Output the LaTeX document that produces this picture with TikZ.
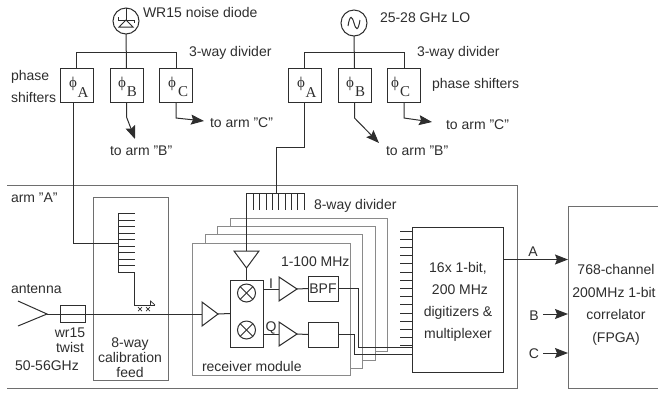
\documentclass[tikz,border=0pt]{standalone}
\usepackage{fontspec}
\setmainfont{Liberation Sans}
\newfontfamily\serifph{Liberation Serif}
\usetikzlibrary{arrows.meta}
\definecolor{ink}{HTML}{2E2E2E}
\definecolor{soft}{HTML}{8A8A8A}
\tikzset{
  wire/.style={draw=ink,line width=1bp},
  boxline/.style={draw=ink,line width=1bp,fill=white,inner sep=0pt,outer sep=0pt},
  phibox/.style={boxline,minimum width=33bp,minimum height=34bp},
  backbox/.style={draw=soft,line width=1bp,fill=white},
  arrowline/.style={wire,-{Stealth[length=13bp,width=10bp,inset=2bp]}},
  lab/.style={inner sep=0pt,outer sep=0pt,text=ink,font=\fontsize{14bp}{16bp}\selectfont,anchor=west,text height=10bp,text depth=0pt},
  clab/.style={lab,anchor=center,align=center},
  phi/.style={inner sep=0pt,text=ink,font=\fontsize{15bp}{15bp}\selectfont\serifph},
  sub/.style={inner sep=0pt,text=ink,font=\fontsize{15bp}{15bp}\selectfont\serifph},
  mixer/.style={circle,draw=ink,line width=1bp,minimum size=18bp,inner sep=0pt,outer sep=0pt},
}
\begin{document}
\begin{tikzpicture}[x=1bp,y=-1bp]
\useasboundingbox (0,0) rectangle (658,392);
% --- top left chain
\node[circle,draw=ink,line width=1bp,minimum size=26bp,inner sep=0pt,outer sep=0pt] (diode) at (126,21) {};
\node[phibox] (pa1) at (76.5,85) {};
\node[phibox] (pb1) at (126.5,85) {};
\node[phibox] (pc1) at (176,85) {};
\draw[wire] (119,27) -- (126,20) -- (133,27) -- cycle;
\draw[wire] (118,20) -- (134,20);
\draw[wire] (118,20) -- (118,17);
\draw[wire] (134,20) -- (134,23);
\draw[wire] (diode.south) -- (pb1.north);
\draw[wire] (126,8) -- (126,20);
\coordinate (d1l) at (76.5,52);
\coordinate (d1r) at (176,52);
\draw[wire] (pa1.north) -- (d1l) -- (d1r) -- (pc1.north);
\coordinate (b1) at (126.5,117);
\coordinate (b1e) at (135,139);
\draw[arrowline] (pb1.south) -- (b1) -- (b1e);
\coordinate (c1) at (176,118);
\coordinate (c1e) at (204,121);
\draw[arrowline] (pc1.south) -- (c1) -- (c1e);
% --- top right chain
\node[circle,draw=ink,line width=1bp,minimum size=26bp,inner sep=0pt,outer sep=0pt] (lo) at (354,23) {};
\node[phibox] (pa2) at (304.5,85) {};
\node[phibox] (pb2) at (354.5,85) {};
\node[phibox] (pc2) at (404,85) {};
\draw[wire] (348,26) .. controls (350,14) and (352,16) .. (354,23) .. controls (356,30) and (358,32) .. (360,20);
\draw[wire] (lo.south) -- (pb2.north);
\coordinate (d2l) at (304.5,52);
\coordinate (d2r) at (404,52);
\draw[wire] (pa2.north) -- (d2l) -- (d2r) -- (pc2.north);
\coordinate (b2) at (354.5,118);
\coordinate (b2e) at (379,143);
\draw[arrowline] (pb2.south) -- (b2) -- (b2e);
\coordinate (c2) at (404,118);
\coordinate (c2e) at (432,122);
\draw[arrowline] (pc2.south) -- (c2) -- (c2e);
% phi labels
\node[phi] (fa1) at (73,84) {ϕ}; \node[sub] (sa1) at (83,93) {A};
\node[phi] (fb1) at (122,84) {ϕ}; \node[sub] (sb1) at (132,92) {B};
\node[phi] (fc1) at (172,84) {ϕ}; \node[sub] (sc1) at (183,92) {C};
\node[phi] (fa2) at (301,84) {ϕ}; \node[sub] (sa2) at (311,93) {A};
\node[phi] (fb2) at (350,84) {ϕ}; \node[sub] (sb2) at (360,92) {B};
\node[phi] (fc2) at (395,84) {ϕ}; \node[sub] (sc2) at (405,92) {C};
% --- arm A frame (open at left)
\coordinate (f1) at (7,185); \coordinate (f2) at (517,185);
\coordinate (f3) at (517,388); \coordinate (f4) at (7,388);
\draw[draw=soft!70!ink,line width=1bp] (f1) -- (f2) -- (f3) -- (f4);
% --- calibration feed
\node[draw=soft!70!ink,line width=1bp,inner sep=0pt,outer sep=0pt,minimum width=75bp,minimum height=183bp] (cal) at (130.5,288.5) {};
% --- stacked modules
\draw[backbox] (230,218) rectangle (387,351);
\draw[backbox] (217,226) rectangle (375,360);
\draw[backbox] (205,234) rectangle (362.5,368);
\node[backbox,inner sep=0pt,outer sep=0pt,minimum width=158bp,minimum height=132bp] (rx) at (271,309) {};
% --- calibration comb
\coordinate (ca) at (73,243);
\coordinate (cb) at (118,243);
\draw[wire] (73,102) -- (ca) -- (cb);
\coordinate (ct) at (118,213.5);
\coordinate (cu) at (118,272);
\draw[wire] (ct) -- (cu);
\foreach \i in {0,...,9} \draw[wire] (118,213.5+6.5*\i) -- (135,213.5+6.5*\i);
\coordinate (cc) at (134.5,272);
\coordinate (cd) at (134.5,305);
\coordinate (ce) at (155,305);
\draw[wire] (cc) -- (cd) -- (ce);
\draw[wire,line width=0.7bp] (150.5,305) -- (150.5,301) -- (155,305);
\foreach \x in {140,148}{
  \draw[wire,line width=0.7bp] (\x-2,307) -- (\x+2,311);
  \draw[wire,line width=0.7bp] (\x-2,311) -- (\x+2,307);
}
% --- antenna and main line
\coordinate (ha) at (18,301); \coordinate (hb) at (47,314); \coordinate (hc) at (18,326);
\draw[wire] (ha) -- (hb) -- (hc);
\node[boxline,fill=none,minimum width=25bp,minimum height=17bp] (twist) at (72.5,313.5) {};
\coordinate (a1in) at (202,314);
\draw[wire] (hb) -- (a1in);
\draw[wire,fill=white] (202,302) -- (218,314) -- (202,326) -- cycle;
\coordinate (a1out) at (218,314);
\node[boxline,minimum width=33bp,minimum height=67bp] (mix) at (246.5,313.5) {};
\draw[wire] (a1out) -- (mix.west);
\node[mixer] (m1) at (246.5,293) {};
\node[mixer] (m2) at (246.5,330) {};
\foreach \m in {m1,m2}{
  \draw[wire] (\m.north west) -- (\m.south east);
  \draw[wire] (\m.north east) -- (\m.south west);
}
% --- 8-way divider
\coordinate (la) at (276,147);
\draw[wire] (pa2.south) -- (304.5,147) -- (la) -- (276,193);
\draw[wire] (247,193) -- (304.5,193);
\foreach \i in {1,...,9} \draw[wire] (247+6.35*\i,193) -- (247+6.35*\i,210);
\coordinate (lt) at (246.5,251);
\draw[wire] (246.5,193) -- (lt);
\draw[wire,fill=white] (234,251) -- (259,251) -- (246.5,268) -- cycle;
\draw[wire] (246.5,268) -- (mix.north);
% --- I and Q paths
\node[boxline,minimum width=30bp,minimum height=25bp] (bpf) at (323,288.5) {};
\node[boxline,minimum width=30bp,minimum height=25bp] (lpf) at (323,334.5) {};
\draw[wire] (263,289) -- (279,289);
\draw[wire,fill=white] (279,277) -- (297,289) -- (279,301) -- cycle;
\draw[wire] (297,289) -- (bpf.west);
\draw[wire] (263,334) -- (279,334);
\draw[wire,fill=white] (279,322) -- (297,334) -- (279,346) -- cycle;
\draw[wire] (297,334) -- (lpf.west);
% --- digitizer
\node[boxline,minimum width=91bp,minimum height=145bp] (dig) at (457.5,299.5) {};
\foreach \i in {0,...,15} \draw[wire] (400,231+8.2*\i) -- (412,231+8.2*\i);
\coordinate (i1) at (358,288.5); \coordinate (i2) at (358,347);
\coordinate (q1) at (354,334.5); \coordinate (q2) at (354,354);
\draw[wire] (bpf.east) -- (i1) -- (i2) -- (412,347);
\draw[wire] (lpf.east) -- (q1) -- (q2) -- (412,354);
% --- correlator (runs off the right edge)
\coordinate (k1) at (658,206); \coordinate (k2) at (568,206);
\coordinate (k3) at (568,388); \coordinate (k4) at (658,388);
\draw[draw=soft!70!ink,line width=1bp] (k1) -- (k2) -- (k3) -- (k4);
\coordinate (ka) at (568,259.5);
\draw[arrowline] (dig.east |- ka) -- (ka);
\coordinate (kb0) at (543,314); \coordinate (kb) at (568,314);
\draw[arrowline] (kb0) -- (kb);
\coordinate (kc0) at (543,353); \coordinate (kc) at (568,353);
\draw[arrowline] (kc0) -- (kc);
% --- labels
\node[lab] (t1) at (143,12) {WR15 noise diode};
\node[lab] (t2) at (189,51) {3-way divider};
\node[lab] (t3) at (11,75) {phase};
\node[lab] (t4) at (11,97) {shifters};
\node[lab] (t5) at (210,122) {to arm "C"};
\node[lab] (t6) at (110,150) {to arm "B"};
\node[lab] (t7) at (380,17) {25-28 GHz LO};
\node[lab] (t8) at (417,51) {3-way divider};
\node[lab] (t9) at (432,83) {phase shifters};
\node[lab] (t10) at (446,124) {to arm "C"};
\node[lab] (t11) at (386,150) {to arm "B"};
\node[lab] (t12) at (11,197) {arm "A"};
\node[lab] (t13) at (11,288) {antenna};
\node[clab] (t14) at (70,332) {wr15};
\node[clab] (t15) at (70,347) {twist};
\node[lab] (t16) at (15,365) {50-56GHz};
\node[clab] (t17) at (130,342) {8-way};
\node[clab] (t18) at (130,357) {calibration};
\node[clab] (t19) at (130,372) {feed};
\node[lab] (t20) at (314,204) {8-way divider};
\node[lab] (t21) at (281,261) {1-100 MHz};
\node[lab] (t22) at (202,366) {receiver module};
\node[clab] (t23) at (bpf) {BPF};
\node[clab] (t24) at (271,283) {I};
\node[clab] (t25) at (271,326) {Q};
\node[clab] (t26) at (458,267) {16x 1-bit,};
\node[clab] (t27) at (460,289) {200 MHz};
\node[clab] (t28) at (458,311) {digitizers \&};
\node[clab] (t29) at (458,333) {multiplexer};
\node[clab] (t30) at (533,251) {A};
\node[clab] (t31) at (534,315) {B};
\node[clab] (t32) at (534,353) {C};
\node[clab] (t33) at (616,269) {768-channel};
\node[clab] (t34) at (614,292) {200MHz 1-bit};
\node[clab] (t35) at (616,314) {correlator};
\node[clab] (t36) at (616,337) {(FPGA)};
\end{tikzpicture}
\end{document}
